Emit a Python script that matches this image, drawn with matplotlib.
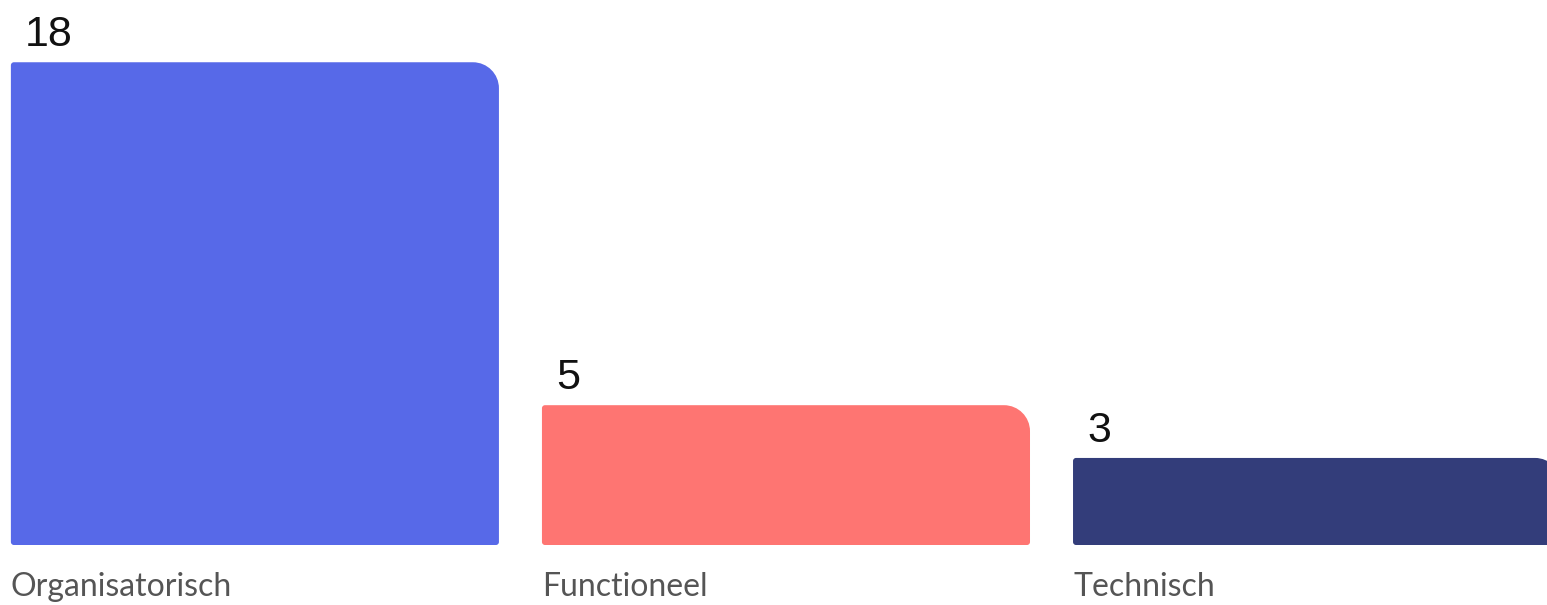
import matplotlib
matplotlib.use("Agg")
import matplotlib.pyplot as plt
from matplotlib.path import Path
from matplotlib.patches import PathPatch

# Data
categories = ["Organisatorisch", "Functioneel", "Technisch"]
values = [18, 5, 3]
colors = ["#5769E8", "#FE7572", "#333D7A"]

BAR_W = 0.919
BASE = -0.3          # bars sit a little below the zero line
R_TOP = 26           # px, top-right corner
R_SMALL = 3          # px, other corners


def rounded_bar(ax, x0, y0, w, h, color, px_x, px_y):
    """Bar with a big rounded top-right corner and small rounding elsewhere."""
    rx_t, ry_t = R_TOP / px_x, R_TOP / px_y
    rx_s, ry_s = R_SMALL / px_x, R_SMALL / px_y
    k = 0.5523
    x1, y1 = x0 + w, y0 + h
    verts = [
        (x0 + rx_s, y0),
        (x1 - rx_s, y0),
        (x1 - rx_s + k * rx_s, y0), (x1, y0 + ry_s - k * ry_s), (x1, y0 + ry_s),
        (x1, y1 - ry_t),
        (x1, y1 - ry_t + k * ry_t), (x1 - rx_t + k * rx_t, y1), (x1 - rx_t, y1),
        (x0 + rx_s, y1),
        (x0 + rx_s - k * rx_s, y1), (x0, y1 - ry_s + k * ry_s), (x0, y1 - ry_s),
        (x0, y0 + ry_s),
        (x0, y0 + ry_s - k * ry_s), (x0 + rx_s - k * rx_s, y0), (x0 + rx_s, y0),
        (x0 + rx_s, y0),
    ]
    codes = [Path.MOVETO, Path.LINETO,
             Path.CURVE4, Path.CURVE4, Path.CURVE4,
             Path.LINETO,
             Path.CURVE4, Path.CURVE4, Path.CURVE4,
             Path.LINETO,
             Path.CURVE4, Path.CURVE4, Path.CURVE4,
             Path.LINETO,
             Path.CURVE4, Path.CURVE4, Path.CURVE4,
             Path.CLOSEPOLY]
    ax.add_patch(PathPatch(Path(verts, codes), facecolor=color,
                           edgecolor="none", zorder=2))


fig = plt.figure(figsize=(15.47, 6.05), dpi=100, facecolor="white")
ax = fig.add_axes([0, 60 / 605, 1, 545 / 605])
ax.set_xlim(-0.480, 2.433)
ax.set_ylim(BASE, 20.36)
ax.axis("off")

bbox = ax.get_window_extent()
px_x = bbox.width / (ax.get_xlim()[1] - ax.get_xlim()[0])
px_y = bbox.height / (ax.get_ylim()[1] - ax.get_ylim()[0])

for i, (cat, val, col) in enumerate(zip(categories, values, colors)):
    left = i - BAR_W / 2
    rounded_bar(ax, left, BASE, BAR_W, val - BASE, col, px_x, px_y)
    ax.annotate(str(val), xy=(left, val), xytext=(14, 16),
                textcoords="offset pixels", ha="left", va="baseline",
                fontsize=31, family="Liberation Sans", color="#111111")
    ax.annotate(cat, xy=(left, BASE), xytext=(0, -42),
                textcoords="offset pixels", ha="left", va="center",
                fontsize=23, family="Lato", color="#555555",
                annotation_clip=False)

fig.savefig("out.png", dpi=100, facecolor="white")
